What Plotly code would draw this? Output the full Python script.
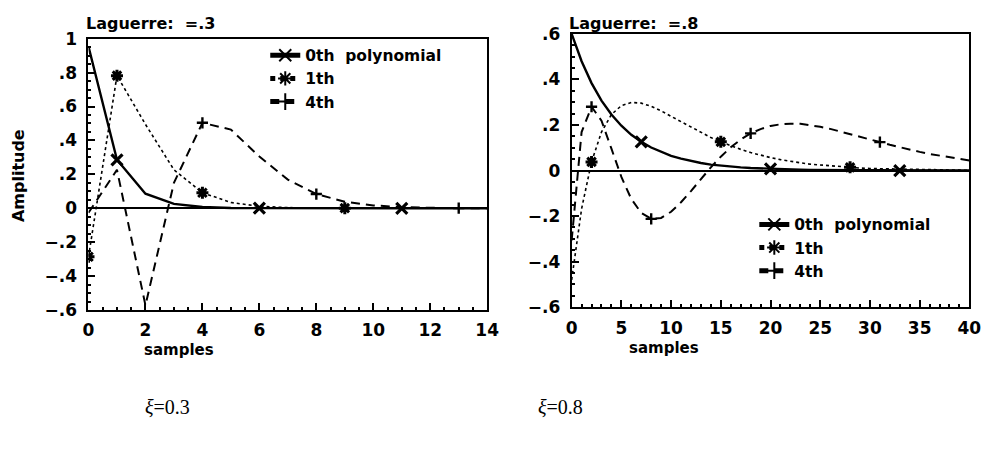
import plotly.graph_objects as go

# ---------------- data ----------------
# Left panel: Laguerre pole 0.3
samples_a = list(range(15))
p0_a = [0.954, 0.286, 0.086, 0.026, 0.008, 0.002, 0.001, 0, 0, 0, 0, 0, 0, 0, 0]
p1_a = [-0.286, 0.782, 0.495, 0.227, 0.092, 0.034, 0.012, 0.004, 0.002, 0.001, 0, 0, 0, 0, 0]
p4_a = [-0.026, 0.227, -0.572, 0.15, 0.504, 0.464, 0.305, 0.169, 0.084, 0.039, 0.017, 0.007, 0.003, 0.001, 0.0]
marks_a0 = [1, 6, 11]
marks_a1 = [0, 1, 4, 9]
marks_a4 = [4, 8, 13]

# Right panel: Laguerre pole 0.8
samples_b = list(range(41))
p0_b = [0.6, 0.48, 0.384, 0.307, 0.246, 0.197, 0.157, 0.126, 0.101, 0.081, 0.064, 0.052, 0.041,
        0.033, 0.026, 0.021, 0.017, 0.014, 0.011, 0.009, 0.007, 0.006, 0.004, 0.004, 0.003, 0.002,
        0.002, 0.001, 0.001, 0.001, 0.001, 0.001, 0, 0, 0, 0, 0, 0, 0, 0, 0]
p1_b = [-0.48, -0.168, 0.038, 0.169, 0.246, 0.285, 0.299, 0.296, 0.282, 0.262, 0.238, 0.214, 0.190,
        0.167, 0.145, 0.126, 0.108, 0.093, 0.079, 0.067, 0.057, 0.048, 0.040, 0.034, 0.028, 0.024,
        0.020, 0.017, 0.014, 0.011, 0.009, 0.008, 0.007, 0.005, 0.004, 0.004, 0.003, 0.003, 0.002,
        0.002, 0.001]
p4_b = [-0.307, 0.169, 0.280, 0.219, 0.096, -0.028, -0.125, -0.186, -0.212, -0.208, -0.181, -0.139,
        -0.090, -0.037, 0.014, 0.061, 0.102, 0.136, 0.163, 0.182, 0.196, 0.203, 0.206, 0.205, 0.200,
        0.192, 0.183, 0.172, 0.161, 0.149, 0.137, 0.125, 0.113, 0.102, 0.092, 0.082, 0.073, 0.065,
        0.057, 0.051, 0.044]
marks_b0 = [7, 20, 33]
marks_b1 = [2, 15, 28]
marks_b4 = [2, 8, 18, 31]

series_names = ["0th  polynomial", "1th", "4th"]

yticks_a = [-0.6, -0.4, -0.2, 0, 0.2, 0.4, 0.6, 0.8, 1]
ytext_a = ["\u2212.6", "\u2212.4", "\u2212.2", "0", ".2", ".4", ".6", ".8", "1"]
xticks_a = [0, 2, 4, 6, 8, 10, 12, 14]
yticks_b = [-0.6, -0.4, -0.2, 0, 0.2, 0.4, 0.6]
ytext_b = ["\u2212.6", "\u2212.4", "\u2212.2", "0", ".2", ".4", ".6"]
xticks_b = [0, 5, 10, 15, 20, 25, 30, 35, 40]

# ---------------- styling ----------------
FONT = "DejaVu Sans"
W, H = 1002, 451
styles = [
    dict(line=dict(color="black", width=2.4, dash="solid"), symbol="x-thin-open", msize=11, mlw=3.2),
    dict(line=dict(color="black", width=1.6, dash="dot"), symbol="asterisk-open", msize=10, mlw=3),
    dict(line=dict(color="black", width=2, dash="9px,6px"), symbol="cross-thin-open", msize=8, mlw=2.4),
]


def sizes(n, idx, s):
    return [s if i in idx else 0 for i in range(n)]


fig = go.Figure()

panels = [
    (samples_a, [p0_a, p1_a, p4_a], [marks_a0, marks_a1, marks_a4], "x", "y", "legend"),
    (samples_b, [p0_b, p1_b, p4_b], [marks_b0, marks_b1, marks_b4], "x2", "y2", "legend2"),
]
for xs, ys_list, marks, xa, ya, leg in panels:
    for k, (ys, mk, st) in enumerate(zip(ys_list, marks, styles)):
        fig.add_trace(go.Scatter(
            x=xs, y=ys, name=series_names[k], xaxis=xa, yaxis=ya, legend=leg,
            mode="lines+markers", line=st["line"],
            marker=dict(symbol=st["symbol"], size=sizes(len(xs), mk, st["msize"]), color="black",
                        opacity=1, line=dict(color="black", width=st["mlw"])),
        ))


def px_x(p):
    return p / W


def px_y(p):
    return 1 - p / H


axis_common = dict(showline=True, linecolor="black", linewidth=2, mirror=True, showgrid=False,
                   ticks="inside", ticklen=7, tickwidth=2, tickcolor="black",
                   tickfont=dict(family=FONT, size=17, color="black", weight="bold"))

legfont = dict(family=FONT, size=15.5, color="black", weight="bold")

fig.update_layout(
    width=W, height=H, autosize=False,
    margin=dict(l=0, r=0, t=0, b=0),
    paper_bgcolor="white", plot_bgcolor="white",
    showlegend=True,
    xaxis=dict(domain=[px_x(84), px_x(490)], range=[0, 14], anchor="y", zeroline=False,
               ticklabelstandoff=4,
               tickmode="array", tickvals=xticks_a, ticktext=[str(v) for v in xticks_a],
               minor=dict(ticks="inside", ticklen=3, tickwidth=1.5, tickcolor="black", dtick=0.5, tick0=0),
               **axis_common),
    yaxis=dict(domain=[px_y(314), px_y(30)], range=[-0.6, 1], anchor="x", zeroline=True,
               zerolinecolor="black", zerolinewidth=1.8, ticklabelstandoff=6,
               tickmode="array", tickvals=yticks_a, ticktext=ytext_a,
               minor=dict(ticks="inside", ticklen=3, tickwidth=1.5, tickcolor="black", dtick=0.05, tick0=0),
               **axis_common),
    xaxis2=dict(domain=[px_x(576), px_x(981)], range=[0, 40], anchor="y2", zeroline=False,
                ticklabelstandoff=4,
                tickmode="array", tickvals=xticks_b, ticktext=[str(v) for v in xticks_b],
                minor=dict(ticks="inside", ticklen=3, tickwidth=1.5, tickcolor="black", dtick=1, tick0=0),
                **axis_common),
    yaxis2=dict(domain=[px_y(311), px_y(25)], range=[-0.6, 0.6], anchor="x2", zeroline=True,
                zerolinecolor="black", zerolinewidth=1.8, ticklabelstandoff=6,
                tickmode="array", tickvals=yticks_b, ticktext=ytext_b,
                minor=dict(ticks="inside", ticklen=3, tickwidth=1.5, tickcolor="black", dtick=0.05, tick0=0),
                **axis_common),
    legend=dict(x=px_x(264), y=px_y(30), xanchor="left", yanchor="top", bgcolor="rgba(0,0,0,0)",
                font=legfont, itemsizing="constant", tracegroupgap=0),
    legend2=dict(x=px_x(762), y=px_y(207), xanchor="left", yanchor="top", bgcolor="rgba(0,0,0,0)",
                 font=legfont, itemsizing="constant", tracegroupgap=0),
)

lab = dict(family=FONT, size=15, color="black", weight="bold")
ann = [
    dict(text="Laguerre:  =.3", x=px_x(79), y=px_y(14), xanchor="left", yanchor="middle",
         font=dict(family=FONT, size=16, color="black", weight="bold")),
    dict(text="Laguerre:  =.8", x=px_x(571), y=px_y(14), xanchor="left", yanchor="middle",
         font=dict(family=FONT, size=16, color="black", weight="bold")),
    dict(text="Amplitude", x=px_x(13), y=px_y(173), xanchor="center", yanchor="middle", textangle=-90,
         font=dict(family=FONT, size=16, color="black", weight="bold")),
    dict(text="samples", x=px_x(176), y=px_y(356), xanchor="center", yanchor="middle", font=lab),
    dict(text="samples", x=px_x(670), y=px_y(354), xanchor="center", yanchor="middle", font=lab),
    dict(text="<i>\u03be</i>=0.3", x=px_x(140), y=px_y(415), xanchor="left", yanchor="middle",
         font=dict(family="Liberation Serif", size=20, color="black")),
    dict(text="<i>\u03be</i>=0.8", x=px_x(540), y=px_y(415), xanchor="left", yanchor="middle",
         font=dict(family="Liberation Serif", size=20, color="black")),
]
for a in ann:
    a.update(xref="paper", yref="paper", showarrow=False)
fig.update_layout(annotations=ann)

fig.write_html("out.html")
